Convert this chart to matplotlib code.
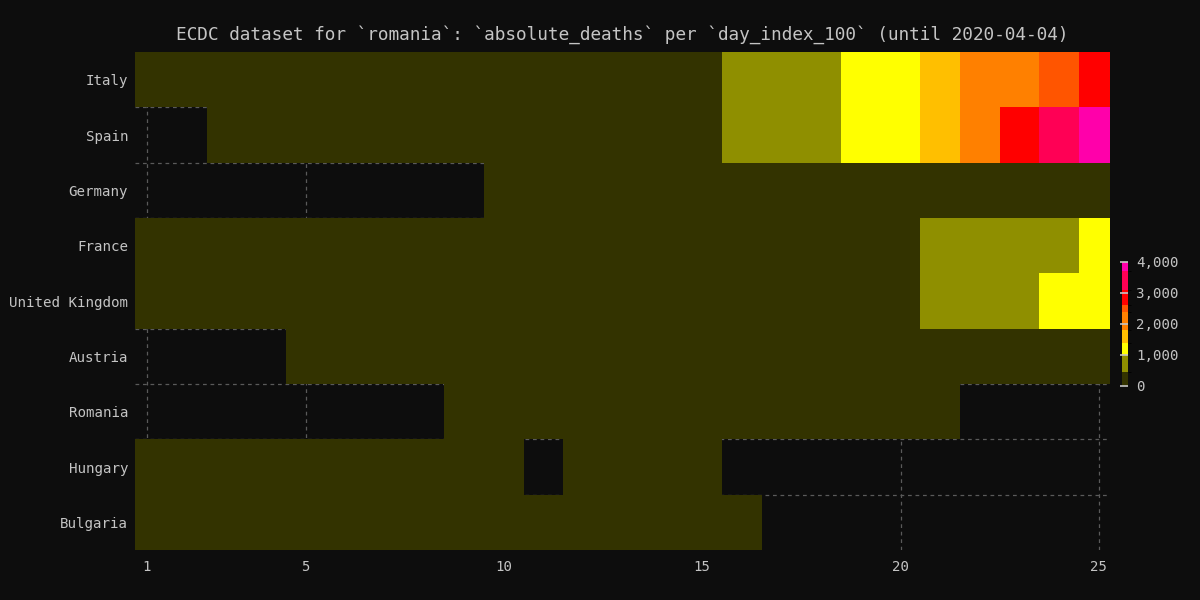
import matplotlib
matplotlib.use("Agg")
import matplotlib.pyplot as plt
from matplotlib.colors import ListedColormap, BoundaryNorm
import numpy as np

plt.rcParams['font.family'] = ['DejaVu Sans Mono']

countries = ['Italy', 'Spain', 'Germany', 'France', 'United Kingdom',
             'Austria', 'Romania', 'Hungary', 'Bulgaria']
days = list(range(1, 26))
N = None

# cumulative deaths per day_index_100 (None = no data)
italy = [3, 7, 10, 12, 17, 21, 29, 34, 52, 79, 107, 148, 197, 233, 366,
         463, 631, 827, 1016, 1266, 1441, 1809, 2158, 2503, 2978]
spain = [N, N, 1, 2, 3, 5, 10, 17, 28, 35, 54, 55, 133, 195, 289,
         533, 623, 830, 1043, 1375, 1772, 2311, 2808, 3647, 4089]
germany = [N, N, N, N, N, N, N, N, N, 2, 3, 3, 7, 9, 11, 17, 24, 28, 44,
           67, 84, 94, 123, 157, 206]
france = [2, 2, 3, 4, 4, 6, 9, 11, 19, 19, 33, 48, 48, 79, 91, 91, 148,
          148, 243, 372, 450, 562, 674, 860, 1100]
uk = [1, 2, 2, 3, 4, 6, 8, 8, 10, 21, 35, 55, 71, 104, 144, 177, 233, 281,
      335, 422, 465, 578, 759, 1019, 1228]
austria = [N, N, N, N, 1, 1, 1, 3, 3, 4, 6, 6, 8, 16, 21, 28, 30, 49, 58,
           68, 86, 108, 128, 146, 158]
romania = [N, N, N, N, N, N, N, N, 1, 2, 2, 3, 7, 11, 17, 17, 23, 26, 37,
           43, 65, N, N, N, N]
hungary = [1, 1, 4, 6, 6, 9, 10, 10, 13, 15, N, 16, 20, 21, 26,
           N, N, N, N, N, N, N, N, N, N]
bulgaria = [2, 3, 3, 3, 3, 3, 3, 3, 3, 7, 8, 8, 10, 10, 14, 17,
            N, N, N, N, N, N, N, N, N]

rows = [italy, spain, germany, france, uk, austria, romania, hungary, bulgaria]
data = np.array([[np.nan if v is None else v for v in r] for r in rows], dtype=float)
data = np.ma.masked_invalid(data)

bounds = [0, 450, 1000, 1400, 1800, 2400, 2600, 3100, 3700, 4000]
colors = ['#333300', '#8f8f00', '#ffff00', '#ffbf00', '#ff8000',
          '#ff5500', '#ff0000', '#ff0055', '#ff00aa']
cmap = ListedColormap(colors)
cmap.set_over('#ff00aa')
norm = BoundaryNorm(bounds, cmap.N)

bg = '#0d0d0d'
fg = '#c4c4c4'
fig = plt.figure(figsize=(12, 6), dpi=100, facecolor=bg)
ax = fig.add_axes([0.1125, 0.0833, 0.8125, 0.83])
ax.set_facecolor(bg)

xe = np.arange(0.5, 26.5, 1)
ye = np.arange(-0.5, len(countries) + 0.5, 1)
mesh = ax.pcolormesh(xe, ye, data, cmap=cmap, norm=norm, zorder=2)

ax.set_xlim(0.697, 25.28)
ax.set_ylim(len(countries) - 0.5, -0.5)
ax.set_xticks([1, 5, 10, 15, 20, 25])
ax.set_yticks(range(len(countries)))
ax.set_yticklabels(countries)
ax.set_yticks(np.arange(0.5, len(countries) - 0.5, 1), minor=True)
ax.tick_params(which='both', length=0, colors=fg, labelsize=10.2, pad=5)
ax.tick_params(axis='x', pad=7)
ax.grid(True, which='major', axis='x', color='#5a5a5a', linestyle=(0, (3, 3)), lw=0.9, zorder=0)
ax.grid(True, which='minor', axis='y', color='#5a5a5a', linestyle=(0, (3, 3)), lw=0.9, zorder=0)
ax.set_axisbelow(True)
for s in ax.spines.values():
    s.set_visible(False)

ax.set_title('ECDC dataset for `romania`: `absolute_deaths` per `day_index_100` (until 2020-04-04)',
             color=fg, fontsize=12.8, pad=9)

cax = fig.add_axes([0.935, 0.3567, 0.005, 0.2067])
cb = fig.colorbar(mesh, cax=cax, ticks=[0, 1000, 2000, 3000, 4000], spacing='proportional')
cb.outline.set_visible(False)
cb.ax.set_ylim(0, 4000)
cb.ax.yaxis.set_major_formatter(matplotlib.ticker.FuncFormatter(lambda v, p: f'{int(v):,}'))
cb.ax.tick_params(colors=fg, labelsize=10.2, length=6, width=1.2, direction='in', pad=6)
for t in cb.ax.yaxis.get_ticklines():
    t.set_color('#eeeeee')

fig.savefig('out.png', dpi=100, facecolor=bg)
